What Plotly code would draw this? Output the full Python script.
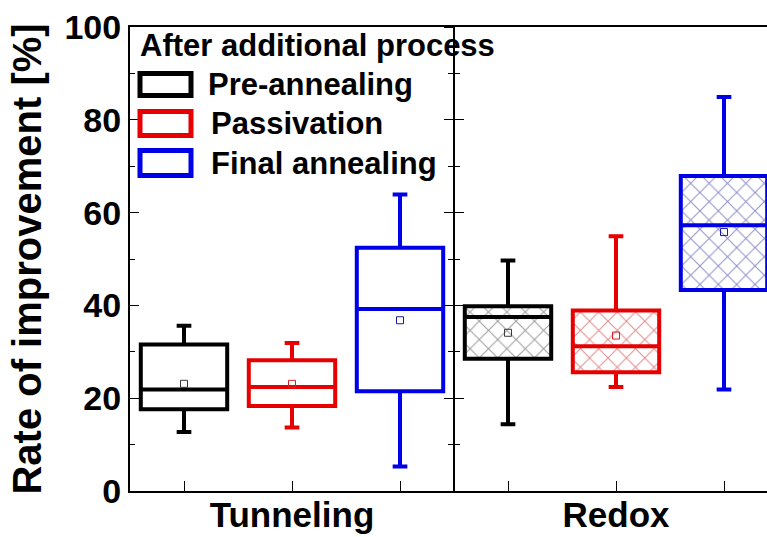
import plotly.graph_objects as go

# ---------------- data ----------------
groups = ["Tunneling", "Redox"]
series = ["Pre-annealing", "Passivation", "Final annealing"]
legend_title = "After additional process"
hatched_groups = ["Redox"]

# per series: values for [Tunneling, Redox]
pre_q1 = [17.6, 28.5]
pre_median = [21.9, 37.5]
pre_q3 = [31.6, 39.8]
pre_low = [12.7, 14.4]
pre_high = [35.6, 49.7]
pre_mean = [23.1, 34.1]

pas_q1 = [18.3, 25.6]
pas_median = [22.4, 31.2]
pas_q3 = [28.2, 38.9]
pas_low = [13.7, 22.4]
pas_high = [31.9, 54.9]
pas_mean = [23.1, 33.5]

fin_q1 = [21.5, 43.3]
fin_median = [39.2, 57.3]
fin_q3 = [52.4, 67.9]
fin_low = [5.3, 21.9]
fin_high = [63.9, 84.9]
fin_mean = [36.8, 55.8]

y_ticks = [0, 20, 40, 60, 80, 100]

# ---------------- style ----------------
colors = ["#000000", "#e60000", "#0000e6"]
mean_colors = ["#3a3a3a", "#d42020", "#1a1a9a"]
hatch_colors = ["#383838", "#c01818", "#20208f"]
FONT = "Liberation Sans, Arial, sans-serif"

W, H = 767, 537
ML, MR, MT, MB = 130, 0, 27, 46
plot_w = W - ML - MR
plot_h = H - MT - MB
x_lo = -0.5
x_hi = x_lo + plot_w / 108.0  # 108 px per slot, right panel cut at canvas edge

stats = [
    (pre_q1, pre_median, pre_q3, pre_low, pre_high, pre_mean),
    (pas_q1, pas_median, pas_q3, pas_low, pas_high, pas_mean),
    (fin_q1, fin_median, fin_q3, fin_low, fin_high, fin_mean),
]

fig = go.Figure()

# hatch fills (bars beneath boxes)
for s, (q1, med, q3, lo, hi, mn) in enumerate(stats):
    xs, bases, hs = [], [], []
    for g, gname in enumerate(groups):
        if gname in hatched_groups:
            xs.append(g * len(series) + s)
            bases.append(q1[g])
            hs.append(q3[g] - q1[g])
    fig.add_trace(go.Bar(
        x=xs, y=hs, base=bases, width=0.8,
        marker=dict(color="white", line=dict(width=0),
                    pattern=dict(shape="x", fgcolor=hatch_colors[s], bgcolor="white",
                                 size=13, solidity=0.15)),
        showlegend=False, hoverinfo="skip"))

# boxes
for s, (q1, med, q3, lo, hi, mn) in enumerate(stats):
    xs = [g * len(series) + s for g in range(len(groups))]
    fig.add_trace(go.Box(
        x=xs, q1=q1, median=med, q3=q3, lowerfence=lo, upperfence=hi,
        width=0.8, whiskerwidth=0.17, boxpoints=False,
        line=dict(color=colors[s], width=4), fillcolor="rgba(0,0,0,0)",
        name=series[s], showlegend=False))
    fig.add_trace(go.Scatter(
        x=xs, y=mn, mode="markers",
        marker=dict(symbol="square-open", size=7, color=mean_colors[s], line=dict(width=1)),
        showlegend=False, hoverinfo="skip"))

# dummy traces so the divider axes render
fig.add_trace(go.Scatter(x=[None], y=[None], yaxis="y2", showlegend=False, hoverinfo="skip"))
fig.add_trace(go.Scatter(x=[None], y=[None], yaxis="y3", showlegend=False, hoverinfo="skip"))

divider_pos = (len(series) - 0.5 - x_lo) / (x_hi - x_lo)

tick_vals = list(range(len(groups) * len(series)))
tick_text = []
for g, gname in enumerate(groups):
    for s in range(len(series)):
        tick_text.append(gname if s == 1 else "")


def divider_axis(direction):
    return dict(
        overlaying="y", anchor="free", position=divider_pos, side="left",
        range=[0, 100], showline=True, linewidth=1.5, linecolor="black",
        showticklabels=False, showgrid=False, zeroline=False,
        tickvals=y_ticks, ticks=direction, ticklen=9, tickwidth=1.2, tickcolor="black",
        minor=dict(dtick=10, ticks=direction, ticklen=5, tickwidth=1.2, tickcolor="black"),
    )


fig.update_layout(
    width=W, height=H,
    margin=dict(l=ML, r=MR, t=MT, b=MB, autoexpand=False),
    paper_bgcolor="white", plot_bgcolor="white",
    boxmode="overlay", barmode="overlay",
    font=dict(family=FONT, color="black"),
    xaxis=dict(
        range=[x_lo, x_hi], showline=True, linewidth=2, linecolor="black", mirror=True,
        ticks="inside", ticklen=10, tickwidth=1.2, tickcolor="black",
        tickvals=tick_vals, ticktext=tick_text, ticklabelstandoff=-8,
        tickfont=dict(family=FONT, size=35, weight="bold", color="black"),
        showgrid=False, zeroline=False, automargin=False,
    ),
    yaxis=dict(
        range=[0, 100], showline=True, linewidth=2, linecolor="black",
        ticks="inside", ticklen=9, tickwidth=1.2, tickcolor="black",
        tickvals=y_ticks,
        minor=dict(dtick=10, ticks="inside", ticklen=5, tickwidth=1.2, tickcolor="black"),
        tickfont=dict(family=FONT, size=34, weight="bold", color="black"),
        title=dict(text="Rate of improvement [%]", standoff=10,
                   font=dict(family=FONT, size=40, weight="bold", color="black")),
        showgrid=False, zeroline=False, automargin=False,
    ),
    yaxis2=divider_axis("outside"),
    yaxis3=divider_axis("inside"),
)


# legend drawn in the top-left corner
def fx(px):
    return (px - ML) / plot_w


def fy(py):
    return (H - MB - py) / plot_h


fig.add_annotation(x=fx(138), y=fy(45), xref="paper", yref="paper", xanchor="left", yanchor="middle",
                   text=legend_title, showarrow=False,
                   font=dict(family=FONT, size=31, weight="bold", color="black"))
icon_rows = [(72, 97), (110, 137), (149, 177)]
text_x = [206, 209, 209]
for s, name in enumerate(series):
    y0, y1 = icon_rows[s]
    fig.add_shape(type="rect", xref="paper", yref="paper",
                  x0=fx(140), x1=fx(191), y0=fy(y1 - 1.5), y1=fy(y0 + 1.5),
                  line=dict(color=colors[s], width=5), fillcolor="rgba(0,0,0,0)")
    fig.add_annotation(x=fx(text_x[s]), y=fy((y0 + y1) / 2), xref="paper", yref="paper",
                       xanchor="left", yanchor="middle", text=name, showarrow=False,
                       font=dict(family=FONT, size=31, weight="bold", color="black"))

fig.write_html("out.html", config={"displayModeBar": False},
               post_script="document.body.style.margin='0';")
